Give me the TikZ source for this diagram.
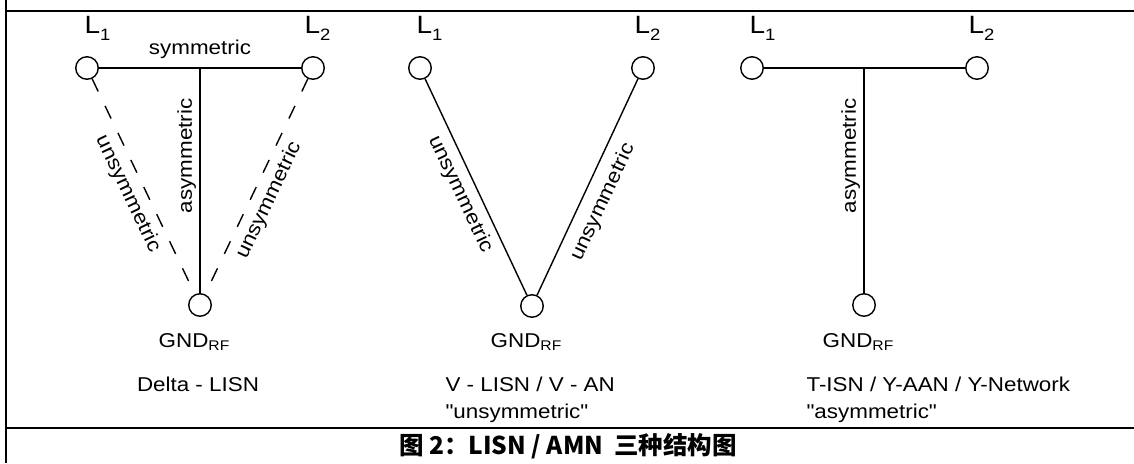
\documentclass[tikz,border=0pt]{standalone}
\usepackage{fontspec}
\setmainfont{Liberation Sans}[FakeStretch=1.12, Ligatures=TeXOff]
\newfontfamily\cjk{Noto Sans CJK SC}
\usetikzlibrary{positioning,calc}
\tikzset{font=\fontsize{20}{27}\selectfont}
\newcommand{\lname}[1]{{\fontsize{25}{25}\selectfont L}\raisebox{-7pt}{\fontsize{16.5}{16.5}\selectfont #1}}
\newcommand{\gname}{GND\raisebox{-3pt}{\fontsize{14}{14}\selectfont RF}}

\begin{document}
\begin{tikzpicture}[x=1pt,y=-1pt]
	\tikzstyle{port}=[circle, draw, line width=1.4pt, minimum size=22.5pt, inner sep=0pt]
	\tikzstyle{wire}=[line width=1.4pt]
	\tikzstyle{dwire}=[line width=1.4pt, dash pattern=on 14pt off 16pt]
	\tikzstyle{rule}=[line width=1.6pt]
	\useasboundingbox (0,0) rectangle (1134,463);

	% frame
	\draw[rule] (6,0) -- (6,463);
	\draw[rule] (6,11) -- (1134,11);
	\draw[rule] (6,428) -- (1134,428);

	% delta
	\node[port] (aL1) at (87,68) {};
	\node[port] (aL2) at (313,68) {};
	\node[port] (aG) at (200,305) {};
	\coordinate (aJ) at ($(aL1)!0.5!(aL2)$);
	\node[anchor=base west] (aN1) at (81,33) {\lname{1}};
	\node[anchor=base west] (aN2) at (301,33) {\lname{2}};
	\node[anchor=base] (aNG) at (194,347) {\gname};
	\node[anchor=base] (aT) at (198,391) {Delta - LISN};

	\draw[wire] (aL1) -- node[above=5pt] {symmetric} (aL2);
	\draw[wire] (aJ) -- node[pos=0.39, anchor=south, rotate=90] {asymmetric} (aG);
	\draw[dwire] (aL1) -- node[sloped, below=4pt] {unsymmetric} (aG);
	\draw[dwire] (aL2) -- node[sloped, below=4pt, pos=0.53] {unsymmetric} (aG);

	% V
	\node[port] (bL1) at (420,68) {};
	\node[port] (bL2) at (643,68) {};
	\node[port] (bG) at (532,306) {};
	\node[anchor=base west] (bN1) at (413,33) {\lname{1}};
	\node[anchor=base west] (bN2) at (631,33) {\lname{2}};
	\node[anchor=base] (bNG) at (526,347) {\gname};
	\node[anchor=base west] (bT) at (442,391) {V - LISN / V - AN};
	\node[anchor=base west] (bQ) at (442,418) {"unsymmetric"};

	\draw[wire] (bL1) -- node[sloped, below=4pt] {unsymmetric} (bG);
	\draw[wire] (bL2) -- node[sloped, below=7pt, pos=0.53] {unsymmetric} (bG);

	% T
	\node[port] (cL1) at (752,68) {};
	\node[port] (cL2) at (977,68) {};
	\node[port] (cG) at (864,305) {};
	\coordinate (cJ) at (864,68);
	\node[anchor=base west] (cN1) at (746,33) {\lname{1}};
	\node[anchor=base west] (cN2) at (965,33) {\lname{2}};
	\node[anchor=base] (cNG) at (858,347) {\gname};
	\node[anchor=base west] (cT) at (803,391) {T-ISN / Y-AAN / Y-Network};
	\node[anchor=base west] (cQ) at (803,418) {"asymmetric"};

	\draw[wire] (cL1) -- (cL2);
	\draw[wire] (cJ) -- node[pos=0.39, anchor=south, rotate=90] {asymmetric} (cG);

	% caption
	\node (cap) at (568,446) {\cjk\bfseries\fontsize{24.5}{24.5}\selectfont 图 2：LISN / AMN\ \ 三种结构图};
\end{tikzpicture}
\end{document}
